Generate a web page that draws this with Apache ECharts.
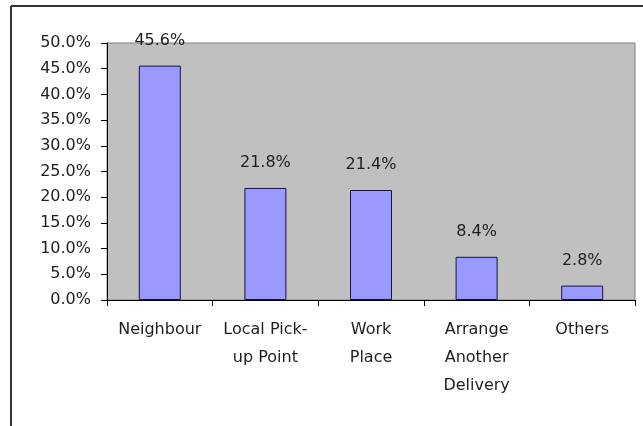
<!DOCTYPE html>
<html>
<head>
<meta charset="utf-8">
<script src="https://cdn.jsdelivr.net/npm/echarts@6/dist/echarts.min.js"></script>
<style>
  html, body { margin: 0; padding: 0; background: #fff; }
  #chart { width: 643px; height: 426px; }
</style>
</head>
<body>
<div id="chart"></div>
<script>
// Where parcels were left when nobody was home (share of responses, %)
const categories = ['Neighbour', 'Local Pick-\nup Point', 'Work\nPlace', 'Arrange\nAnother\nDelivery', 'Others'];
const shares = [45.6, 21.8, 21.4, 8.4, 2.8];
const yTicks = { min: 0, max: 50, interval: 5 };

const FONT = 'DejaVu Sans';
const TEXT = '#1e1e1e';

const chart = echarts.init(document.getElementById('chart'), null, { renderer: 'canvas' });

chart.setOption({
  animation: false,
  backgroundColor: '#ffffff',
  graphic: [
    // frame around the chart (top and left edges visible)
    { type: 'line', shape: { x1: 11, y1: 6, x2: 643, y2: 6 }, style: { stroke: '#333', lineWidth: 2 } },
    { type: 'line', shape: { x1: 11, y1: 6, x2: 11, y2: 426 }, style: { stroke: '#333', lineWidth: 2 } }
  ],
  grid: {
    left: 107, top: 43, right: 8, bottom: 126,
    show: true,
    backgroundColor: '#c0c0c0',
    borderColor: '#808080',
    borderWidth: 1
  },
  xAxis: {
    type: 'category',
    data: categories,
    axisLine: { lineStyle: { color: '#000', width: 1 } },
    axisTick: { show: true, length: 6, lineStyle: { color: '#000' } },
    axisLabel: {
      interval: 0,
      margin: 16,
      color: TEXT,
      fontFamily: FONT,
      fontSize: 16,
      lineHeight: 28
    },
    splitLine: { show: false }
  },
  yAxis: {
    type: 'value',
    min: yTicks.min,
    max: yTicks.max,
    interval: yTicks.interval,
    axisLine: { show: true, lineStyle: { color: '#000', width: 1 } },
    axisTick: { show: true, length: 6, lineStyle: { color: '#000' } },
    axisLabel: {
      margin: 16,
      color: TEXT,
      fontFamily: FONT,
      fontSize: 16,
      formatter: v => v.toFixed(1) + '%'
    },
    splitLine: { show: false }
  },
  series: [{
    type: 'bar',
    data: shares,
    barWidth: 42,
    itemStyle: { color: '#9999ff', borderColor: '#151540', borderWidth: 1 },
    label: {
      show: true,
      position: 'top',
      distance: 17,
      color: TEXT,
      fontFamily: FONT,
      fontSize: 16,
      formatter: p => p.value.toFixed(1) + '%'
    }
  }]
});
</script>
</body>
</html>
